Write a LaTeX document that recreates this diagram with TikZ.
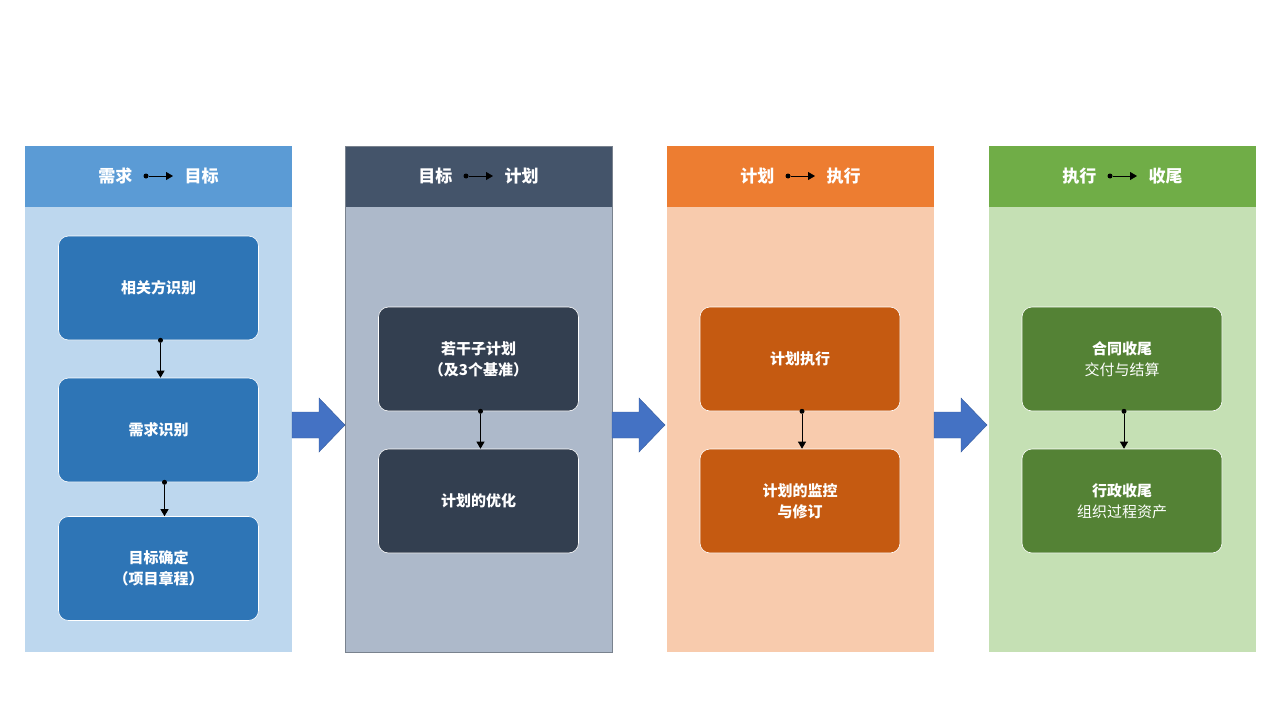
\documentclass[tikz,border=0pt]{standalone}
\usepackage{fontspec}
\setmainfont{Noto Sans CJK SC}
\newfontfamily\cjkb[FakeBold=0]{Noto Sans CJK SC Bold}
\usetikzlibrary{arrows.meta}
\definecolor{h1}{HTML}{5B9BD5}\definecolor{b1}{HTML}{BDD7EE}\definecolor{k1}{HTML}{2E75B6}
\definecolor{h2}{HTML}{44546A}\definecolor{b2}{HTML}{ADB9CA}\definecolor{k2}{HTML}{333F50}
\definecolor{h3}{HTML}{ED7D31}\definecolor{b3}{HTML}{F8CBAD}\definecolor{k3}{HTML}{C55A11}
\definecolor{h4}{HTML}{70AD47}\definecolor{b4}{HTML}{C5E0B4}\definecolor{k4}{HTML}{548235}
\definecolor{arr}{HTML}{4472C4}
\tikzset{
 hdr/.style={text=white,font=\fontsize{17}{20}\selectfont\bfseries},
 card/.style={rounded corners=10pt,draw=white,line width=0.6pt,minimum width=200pt,minimum height=104pt,text=white,align=center,font=\fontsize{15}{21}\selectfont\bfseries},
 link/.style={-{Triangle[length=7pt,width=8pt]},line width=0.8pt,shorten <=-2pt},
 dot/.style={circle,fill=black,inner sep=0pt,minimum size=5pt},
 big/.style={fill=arr,draw=arr!80!black,line width=0.4pt}
}
\begin{document}
\begin{tikzpicture}[x=1pt,y=-1pt]
\useasboundingbox (0,0) rectangle (1280,720);
\foreach \i/\x in {1/25,2/345,3/667,4/989}{
 \fill[b\i] (\x,207) rectangle ++(267,445);
 \fill[h\i] (\x,146) rectangle ++(267,61);
}
\draw[b2!70!black,line width=0.4pt] (345,146) rectangle (612,652);
% headers
\foreach \i/\x/\a/\b in {1/25/需求/目标,2/345/目标/计划,3/667/计划/执行,4/989/执行/收尾}{
 \node[hdr,anchor=east] (ha\i) at (\x+111,176) {\a};
 \node[hdr,anchor=west] (hb\i) at (\x+156,176) {\b};
 \node[dot] (hd\i) at (\x+121,176) {};
 \coordinate (he\i) at (\x+148,176);
 \draw[link,shorten <=0pt] (hd\i) -- (he\i);
}
% cards
\node[card,fill=k1] (a1) at (158.5,288) {相关方识别};
\node[card,fill=k1] (a2) at (158.5,430) {需求识别};
\node[card,fill=k1] (a3) at (158.5,568.5) {目标确定\\（项目章程）};
\node[card,fill=k2] (b1) at (478.5,359) {若干子计划\\（及3个基准）};
\node[card,fill=k2] (b2) at (478.5,501) {计划的优化};
\node[card,fill=k3] (c1) at (800,359) {计划执行};
\node[card,fill=k3] (c2) at (800,501) {计划的监控\\与修订};
\node[card,fill=k4] (d1) at (1122,359) {合同收尾\\{\mdseries 交付与结算}};
\node[card,fill=k4] (d2) at (1122,501) {行政收尾\\{\mdseries 组织过程资产}};
\foreach \p/\q/\dx in {a1/a2/2,a2/a3/6,b1/b2/2,c1/c2/2,d1/d2/2}{
 \node[dot] (\p d) at ([xshift=\dx pt]\p.south) {};
 \draw[link,shorten <=0pt] (\p d) -- ([xshift=\dx pt]\q.north);
}
% big arrows
\foreach \x in {292,612,934}{
 \draw[big] (\x,412) -- (\x+27,412) -- (\x+27,398) -- (\x+53,425) -- (\x+27,452) -- (\x+27,438) -- (\x,438) -- cycle;
}
\end{tikzpicture}
\end{document}
